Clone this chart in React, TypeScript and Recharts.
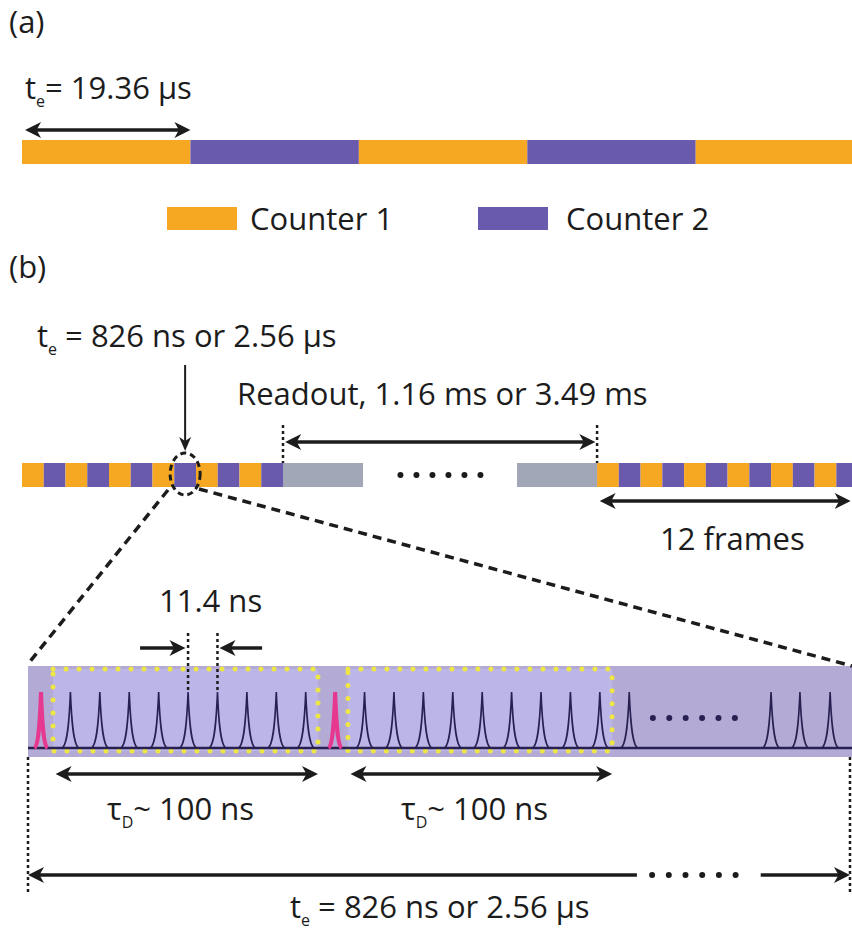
import React from 'react';
import { ComposedChart, XAxis, YAxis, ReferenceArea, ReferenceLine, ReferenceDot, Scatter } from 'recharts';

const W = 852;
const H = 932;
const FONT = '"Open Sans", Lato, sans-serif';

const ORANGE = '#F7A823';
const PURPLE = '#6A5AAE';
const GREY = '#A2A7B7';
const BAND = '#B3AAD6';
const GATE = '#BCB5E7';
const YELLOW = '#EEE645';
const PINK = '#E7388F';
const INK = '#1C1C1C';
const NAVY = '#272050';

const counterColor: Record<string, string> = { 'Counter 1': ORANGE, 'Counter 2': PURPLE };

// (a) continuous mode: counters alternate, exposure in µs
const continuousCounters = ['Counter 1', 'Counter 2', 'Counter 1', 'Counter 2', 'Counter 1'];
const continuousExposure = 19.36;

// (b) burst mode, in frame units: 12 frames, readout (drawn broken), 12 frames
const burstCounters = [
  'Counter 1', 'Counter 2', 'Counter 1', 'Counter 2', 'Counter 1', 'Counter 2',
  'Counter 1', 'Counter 2', 'Counter 1', 'Counter 2', 'Counter 1', 'Counter 2',
];
const burstStarts = [0, 26.44];
const readoutEdges = [12, 26.44];
const readoutStubs = [[12, 15.68], [22.76, 26.44]];
const readoutBreak = [17.4, 21.08];
const zoomedFrame = 7;

// zoomed frame, ns on the drawn (broken) scale
const laserPulses = [5.04, 119.04];
const xrayPulses = [
  16.44, 27.84, 39.24, 50.64, 62.04, 73.44, 84.84, 96.24, 107.64,
  130.44, 141.84, 153.24, 164.64, 176.04, 187.44, 198.84, 210.24, 221.64, 233.04,
];
const tailPulses = [288.0, 299.2, 310.9];
const gateWindows = [[9.7, 112.4], [124.0, 226.4]];
const pulseMarkers = [62.04, 73.44];
const frameSpan = [0, 318.6];
const spanBreak = [236, 284];
const pulseBreak = [242.2, 274.0];
const spanDots = [241.9, 274.4];

// layout (pixels)
const US0 = 22, PX_US = 8.7;
const FR0 = 22, PX_FR = 21.75;
const NS0 = 28, PX_NS = 2.58;
const BASE_Y = 748, PX_AMP = 56;
const ROW_A = [140, 164];
const SWATCH = [207, 230];
const ROW_B = [463, 487];
const BAND_Y = [666, 757];
const GATE_Y = [669, 751];

const axisDomain = (x0: number, k: number): [number, number] => [-x0 / k, (W - x0) / k];

type Heads = 'start' | 'end' | 'both';
const arrowShape = (heads: Heads, sw = 3.5, len = 16, half = 8) => (p: any) => {
  const { x1, y1, x2, y2 } = p;
  const L = Math.hypot(x2 - x1, y2 - y1) || 1;
  const ux = (x2 - x1) / L;
  const uy = (y2 - y1) / L;
  const atStart = heads !== 'end';
  const atEnd = heads !== 'start';
  const head = (tx: number, ty: number, dx: number, dy: number) => {
    const bx = tx - dx * len, by = ty - dy * len;
    const nx = -dy, ny = dx;
    const mx = tx - dx * len * 0.72, my = ty - dy * len * 0.72;
    return `${tx},${ty} ${bx + nx * half},${by + ny * half} ${mx},${my} ${bx - nx * half},${by - ny * half}`;
  };
  const sx = atStart ? x1 + ux * len * 0.6 : x1;
  const sy = atStart ? y1 + uy * len * 0.6 : y1;
  const ex = atEnd ? x2 - ux * len * 0.6 : x2;
  const ey = atEnd ? y2 - uy * len * 0.6 : y2;
  return (
    <g>
      <line x1={sx} y1={sy} x2={ex} y2={ey} stroke={INK} strokeWidth={sw} />
      {atStart && <polygon points={head(x1, y1, -ux, -uy)} fill={INK} />}
      {atEnd && <polygon points={head(x2, y2, ux, uy)} fill={INK} />}
    </g>
  );
};

const cusp = (color: string, sw: number, half: number) => (p: any) => {
  const { cx, cy } = p;
  const b = cy + PX_AMP;
  const d = `M${cx - half},${b} C${cx - half * 0.3},${b - 3} ${cx - 1},${cy + PX_AMP * 0.45} ${cx},${cy} ` +
    `C${cx + 1},${cy + PX_AMP * 0.45} ${cx + half * 0.3},${b - 3} ${cx + half},${b}`;
  return <path d={d} fill="none" stroke={color} strokeWidth={sw} />;
};

const withSub = (base: string, s: string, rest: string) => (
  <>
    {base}
    <tspan fontSize={16} dy={8}>{s}</tspan>
    <tspan dy={-8}>{rest}</tspan>
  </>
);

const txt = (key: string, x: number, y: number, body: React.ReactNode, size = 31) => (
  <ReferenceDot
    key={key}
    xAxisId="px"
    yAxisId="px"
    x={x}
    y={y}
    r={0}
    ifOverflow="visible"
    shape={(p: any) => (
      <text x={p.cx} y={p.cy} fontFamily={FONT} fontSize={size} fill={INK}>
        {body}
      </text>
    )}
  />
);

const seg = (key: string, xAxisId: string, yAxisId: string, a: [number, number], b: [number, number], props: any) => (
  <ReferenceLine
    key={key}
    xAxisId={xAxisId}
    yAxisId={yAxisId}
    segment={[{ x: a[0], y: a[1] }, { x: b[0], y: b[1] }]}
    ifOverflow="visible"
    {...props}
  />
);

const area = (key: string, xAxisId: string, x1: number, x2: number, y: number[], fill: string, extra: any = {}) => (
  <ReferenceArea
    key={key}
    xAxisId={xAxisId}
    yAxisId="px"
    x1={x1}
    x2={x2}
    y1={y[0]}
    y2={y[1]}
    fill={fill}
    fillOpacity={1}
    stroke="none"
    ifOverflow="visible"
    {...extra}
  />
);

const dots = { stroke: INK, strokeWidth: 6, strokeLinecap: 'round', strokeDasharray: '0 16' };
const dotted = { stroke: INK, strokeWidth: 2.5, strokeDasharray: '3 3' };
const dashed = { stroke: INK, strokeWidth: 3.5, strokeDasharray: '9 6' };

const pulseRows = [...xrayPulses, ...tailPulses].map((t) => ({ t, a: 1 }));
const laserRows = laserPulses.map((t) => ({ t, a: 1 }));

export default function App() {
  const areas: React.ReactNode[] = [];
  continuousCounters.forEach((c, i) =>
    areas.push(area(`ca${i}`, 'us', i * continuousExposure, (i + 1) * continuousExposure, ROW_A, counterColor[c])),
  );
  burstStarts.forEach((s, j) =>
    burstCounters.forEach((c, i) => areas.push(area(`b${j}-${i}`, 'frame', s + i, s + i + 1, ROW_B, counterColor[c]))),
  );
  readoutStubs.forEach(([a, b], i) => areas.push(area(`ro${i}`, 'frame', a, b, ROW_B, GREY)));
  areas.push(area('sw1', 'px', 167, 237, SWATCH, ORANGE));
  areas.push(area('sw2', 'px', 478, 548, SWATCH, PURPLE));
  areas.push(area('band', 'ns', frameSpan[0], 330, BAND_Y, BAND));
  gateWindows.forEach(([a, b], i) =>
    areas.push(
      area(`gate${i}`, 'ns', a, b, GATE_Y, GATE, {
        stroke: YELLOW,
        strokeWidth: 5,
        strokeDasharray: '0 13',
        strokeLinecap: 'round',
      }),
    ),
  );

  const lines: React.ReactNode[] = [
    seg('baseline', 'ns', 'amp', [frameSpan[0], 0], [330, 0], { stroke: NAVY, strokeWidth: 2.5 }),
    seg('teA', 'us', 'px', [0.35, 130], [continuousExposure, 130], { shape: arrowShape('both') }),
    seg('down', 'frame', 'px', [zoomedFrame + 0.5, 365], [zoomedFrame + 0.5, 451], { shape: arrowShape('end', 2, 14, 6) }),
    ...readoutEdges.map((e, i) => seg(`roe${i}`, 'frame', 'px', [e, 425], [e, 463], dotted)),
    seg('roArrow', 'frame', 'px', [readoutEdges[0] + 0.1, 442], [readoutEdges[1] - 0.08, 442], { shape: arrowShape('both') }),
    seg('roDots', 'frame', 'px', [readoutBreak[0], 475], [readoutBreak[1], 475], dots),
    seg('frames12', 'frame', 'px', [burstStarts[1] + 0.12, 501], [38.1, 501], { shape: arrowShape('both') }),
    seg('zoomL', 'px', 'px', [168, 490], [28, 664], dashed),
    seg('zoomR', 'px', 'px', [199, 489], [852, 666], dashed),
    ...pulseMarkers.map((t, i) => seg(`pm${i}`, 'ns', 'px', [t, 633], [t, 692], dotted)),
    seg('pmL', 'ns', 'px', [pulseMarkers[0] - 18.6, 648], [pulseMarkers[0] - 1, 648], { shape: arrowShape('end') }),
    seg('pmR', 'ns', 'px', [pulseMarkers[1] + 17.3, 648], [pulseMarkers[1] + 0.8, 648], { shape: arrowShape('end') }),
    seg('pulseDots', 'ns', 'px', [pulseBreak[0], 718], [pulseBreak[1], 718], { ...dots, stroke: NAVY, strokeDasharray: '0 16.4' }),
    ...gateWindows.map(([a, b], i) => seg(`tau${i}`, 'ns', 'px', [a + 1, 774], [b, 774], { shape: arrowShape('both') })),
    ...frameSpan.map((t, i) => seg(`fs${i}`, 'ns', 'px', [t, 757], [t, 893], dotted)),
    seg('spanL', 'ns', 'px', [frameSpan[0], 875], [spanBreak[0], 875], { shape: arrowShape('start') }),
    seg('spanDots', 'ns', 'px', [spanDots[0], 875], [spanDots[1], 875], { ...dots, strokeDasharray: '0 16.7' }),
    seg('spanR', 'ns', 'px', [spanBreak[1], 875], [frameSpan[1], 875], { shape: arrowShape('end') }),
  ];

  const texts: React.ReactNode[] = [
    txt('pa', 9, 33, '(a)'),
    txt('teA', 25, 99, withSub('t', 'e', '= 19.36 µs')),
    txt('c1', 250, 230, 'Counter 1'),
    txt('c2', 566, 230, 'Counter 2'),
    txt('pb', 9, 278, '(b)'),
    txt('teB', 37, 347, withSub('t', 'e', ' = 826 ns or 2.56 µs')),
    txt('ro', 237, 405, 'Readout, 1.16 ms or 3.49 ms'),
    txt('fr', 660, 550, '12 frames'),
    txt('sp', 159, 612, '11.4 ns'),
    txt('tau1', 107, 820, withSub('τ', 'D', '~ 100 ns')),
    txt('tau2', 401, 820, withSub('τ', 'D', '~ 100 ns')),
    txt('teC', 290, 918, withSub('t', 'e', ' = 826 ns or 2.56 µs')),
  ];

  return (
    <div style={{ position: 'absolute', left: 0, top: 0, background: '#fff' }}>
      <ComposedChart width={W} height={H} data={pulseRows} margin={{ top: 0, right: 0, bottom: 0, left: 0 }}>
        <XAxis xAxisId="px" dataKey="t" type="number" domain={[0, W]} allowDataOverflow hide />
        <XAxis xAxisId="us" dataKey="t" type="number" domain={axisDomain(US0, PX_US)} allowDataOverflow hide />
        <XAxis xAxisId="frame" dataKey="t" type="number" domain={axisDomain(FR0, PX_FR)} allowDataOverflow hide />
        <XAxis xAxisId="ns" dataKey="t" type="number" domain={axisDomain(NS0, PX_NS)} allowDataOverflow hide />
        <YAxis yAxisId="px" type="number" domain={[0, H]} reversed allowDataOverflow hide />
        <YAxis
          yAxisId="amp"
          dataKey="a"
          type="number"
          domain={[-(H - BASE_Y) / PX_AMP, BASE_Y / PX_AMP]}
          allowDataOverflow
          hide
        />
        {areas}
        {lines}
        <Scatter
          xAxisId="ns"
          yAxisId="amp"
          data={pulseRows}
          dataKey="a"
          shape={cusp(NAVY, 1.6, 8.5)}
          isAnimationActive={false}
        />
        <Scatter
          xAxisId="ns"
          yAxisId="amp"
          data={laserRows}
          dataKey="a"
          shape={cusp(PINK, 4, 6.5)}
          isAnimationActive={false}
        />
        <ReferenceDot
          xAxisId="frame"
          yAxisId="px"
          x={zoomedFrame + 0.5}
          y={474}
          r={0}
          ifOverflow="visible"
          shape={(p: any) => (
            <ellipse cx={p.cx} cy={p.cy} rx={15} ry={21} fill="none" stroke={INK} strokeWidth={3} strokeDasharray="6 4" />
          )}
        />
        {texts}
      </ComposedChart>
    </div>
  );
}
